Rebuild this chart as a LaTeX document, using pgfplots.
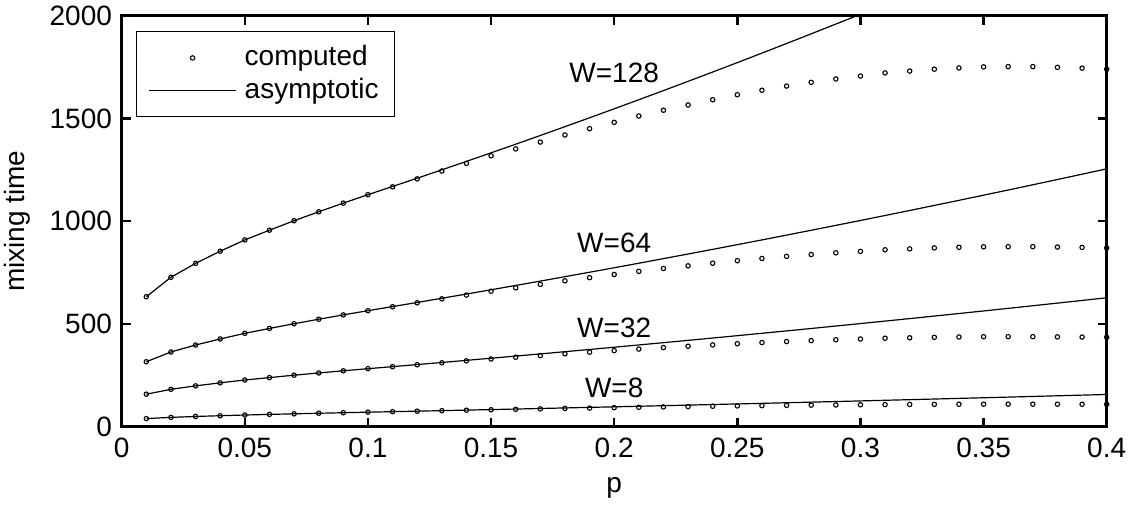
\documentclass[border=0pt]{standalone}
\usepackage{fontspec}
\setmainfont{Liberation Sans}
\usepackage{pgfplots}
\usepackage{pgfplotstable}
\pgfplotsset{compat=1.18}

% computed (c) and asymptotic (a) mixing times for each W
\pgfplotstableread{
p    c8    c32   c64   c128   a8    a32   a64    a128
0.01 39.5  158.1 316.2 632.3  39.5  158.1 316.2  632.3
0.02 45.4  181.8 363.5 727.0  45.4  181.8 363.5  727.0
0.03 49.7  198.7 397.4 794.9  49.7  198.7 397.4  794.9
0.04 53.4  213.4 426.9 853.8  53.4  213.4 426.9  853.8
0.05 56.8  227.2 454.4 908.8  56.8  227.2 454.4  908.8
0.06 59.8  239.0 478.1 956.2  59.8  239.0 478.1  956.2
0.07 62.6  250.6 501.1 1002.2 62.6  250.6 501.1  1002.2
0.08 65.4  261.4 522.9 1045.8 65.4  261.4 522.9  1045.8
0.09 68.0  272.0 544.0 1088.0 68.0  272.0 544.0  1088.0
0.10 70.6  282.2 564.5 1129.0 70.6  282.2 564.5  1129.0
0.11 73.0  291.8 583.7 1167.4 73.1  292.2 584.4  1168.9
0.12 75.4  301.4 602.9 1205.8 75.6  302.3 604.6  1209.2
0.13 77.8  311.0 622.1 1244.2 78.1  312.5 625.0  1249.9
0.14 80.1  320.3 640.6 1281.3 80.7  322.8 645.5  1291.0
0.15 82.4  329.6 659.2 1318.4 83.3  333.2 666.3  1332.6
0.16 84.5  337.9 675.8 1351.7 85.9  343.6 687.3  1374.6
0.17 86.6  346.2 692.5 1385.0 88.6  354.3 708.5  1417.1
0.18 88.7  354.9 709.8 1419.5 91.2  365.0 730.0  1460.0
0.19 90.6  362.6 725.1 1450.2 94.0  375.8 751.6  1503.2
0.20 92.6  370.2 740.5 1481.0 96.7  386.7 773.4  1546.9
0.21 94.5  377.9 755.8 1511.7 99.4  397.8 795.5  1591.0
0.22 96.2  385.0 769.9 1539.8 102.2 408.9 817.8  1635.6
0.23 97.8  391.4 782.7 1565.4 105.0 420.1 840.3  1680.5
0.24 99.4  397.8 795.5 1591.0 107.9 431.5 862.9  1725.8
0.25 101.0 403.8 807.7 1615.4 110.7 442.9 885.8  1771.6
0.26 102.3 409.3 818.6 1637.1 113.6 454.5 908.9  1817.9
0.27 103.6 414.4 828.8 1657.6 116.5 466.1 932.3  1864.6
0.28 104.7 418.9 837.8 1675.5 119.5 477.9 955.8  1911.7
0.29 105.8 423.0 846.1 1692.2 122.4 489.8 979.6  1959.2
0.30 106.6 426.6 853.1 1706.2 125.4 501.8 1003.5 2007.0
0.31 107.6 430.4 860.8 1721.6 128.5 513.9 1027.7 2055.4
0.32 108.2 432.6 865.3 1730.6 131.5 526.0 1052.1 2104.2
0.33 108.7 434.9 869.8 1739.5 134.6 538.3 1076.7 2153.3
0.34 109.1 436.5 873.0 1745.9 137.7 550.7 1101.4 2202.9
0.35 109.4 437.8 875.5 1751.0 140.8 563.2 1126.5 2252.9
0.36 109.5 438.1 876.2 1752.3 144.0 575.8 1151.7 2303.4
0.37 109.5 438.1 876.2 1752.3 147.1 588.6 1177.2 2354.3
0.38 109.3 437.1 874.2 1748.5 150.4 601.4 1202.8 2405.6
0.39 109.0 436.2 872.3 1744.6 153.6 614.3 1228.7 2457.3
0.40 108.7 434.9 869.8 1739.5 156.8 627.4 1254.7 2509.4
}\mixdata

\pgfplotsset{
    markleg/.style={legend image code/.code={\draw[mark repeat=2,mark phase=2,##1]
        plot coordinates {(0pt,0pt) (21.75pt,0pt) (43.5pt,0pt)};}},
    lineleg/.style={legend image code/.code={\draw[##1] (0pt,0pt) -- (43.5pt,0pt);}},
}

\begin{document}
\fontsize{14}{17}\selectfont
\begin{tikzpicture}
\useasboundingbox (-60.85pt,-39.65pt) rectangle (506.65pt,213.35pt);
\begin{axis}[
    scale only axis,
    width=492.5pt, height=205.5pt,
    xmin=0, xmax=0.4, ymin=0, ymax=2000,
    xtick={0,0.05,0.1,0.15,0.2,0.25,0.3,0.35,0.4},
    xticklabels={0,0.05,0.1,0.15,0.2,0.25,0.3,0.35,0.4},
    ytick={0,500,1000,1500,2000},
    yticklabels={0,500,1000,1500,2000},
    tick align=inside,
    major tick length=4.5pt,
    axis line style={line width=1.3pt},
    every tick/.style={black, line width=1.2pt},
    tick label style={font=\fontsize{14}{17}\selectfont},
    xticklabel style={yshift=-1pt},
    label style={font=\fontsize{14}{17}\selectfont},
    xlabel={p},
    ylabel={mixing time},
    xlabel style={at={(axis description cs:0.5,-0.15)}, anchor=center},
    ylabel style={at={(axis description cs:-0.1056,0.5)}, anchor=center},
    legend cell align=left,
    legend style={at={(axis description cs:0,1)}, anchor=north west,
        xshift=7pt, yshift=-7.6pt, draw=black, line width=0.8pt,
        font=\fontsize{14}{17}\selectfont, inner xsep=6pt, inner ysep=5pt},
    mark size=1.1pt,
]

\addplot [only marks, mark=o, mark options={line width=0.55pt}, markleg]
    table [x=p, y=c128] {\mixdata};
\addlegendentry{\hspace{2pt}computed}

\addplot [black, line width=0.6pt, lineleg]
    table [x=p, y=a128] {\mixdata};
\addlegendentry{\hspace{2pt}asymptotic}

\addplot [only marks, mark=o, mark options={line width=0.55pt}, forget plot]
    table [x=p, y=c64] {\mixdata};
\addplot [black, line width=0.6pt, forget plot] table [x=p, y=a64] {\mixdata};

\addplot [only marks, mark=o, mark options={line width=0.55pt}, forget plot]
    table [x=p, y=c32] {\mixdata};
\addplot [black, line width=0.6pt, forget plot] table [x=p, y=a32] {\mixdata};

\addplot [only marks, mark=o, mark options={line width=0.55pt}, forget plot]
    table [x=p, y=c8] {\mixdata};
\addplot [black, line width=0.6pt, forget plot] table [x=p, y=a8] {\mixdata};

\node[font=\fontsize{14}{17}\selectfont] at (axis cs:0.2,1720) {W=128};
\node[font=\fontsize{14}{17}\selectfont] at (axis cs:0.2,895) {W=64};
\node[font=\fontsize{14}{17}\selectfont] at (axis cs:0.2,480) {W=32};
\node[font=\fontsize{14}{17}\selectfont] at (axis cs:0.2,187) {W=8};

\end{axis}
\end{tikzpicture}
\end{document}
